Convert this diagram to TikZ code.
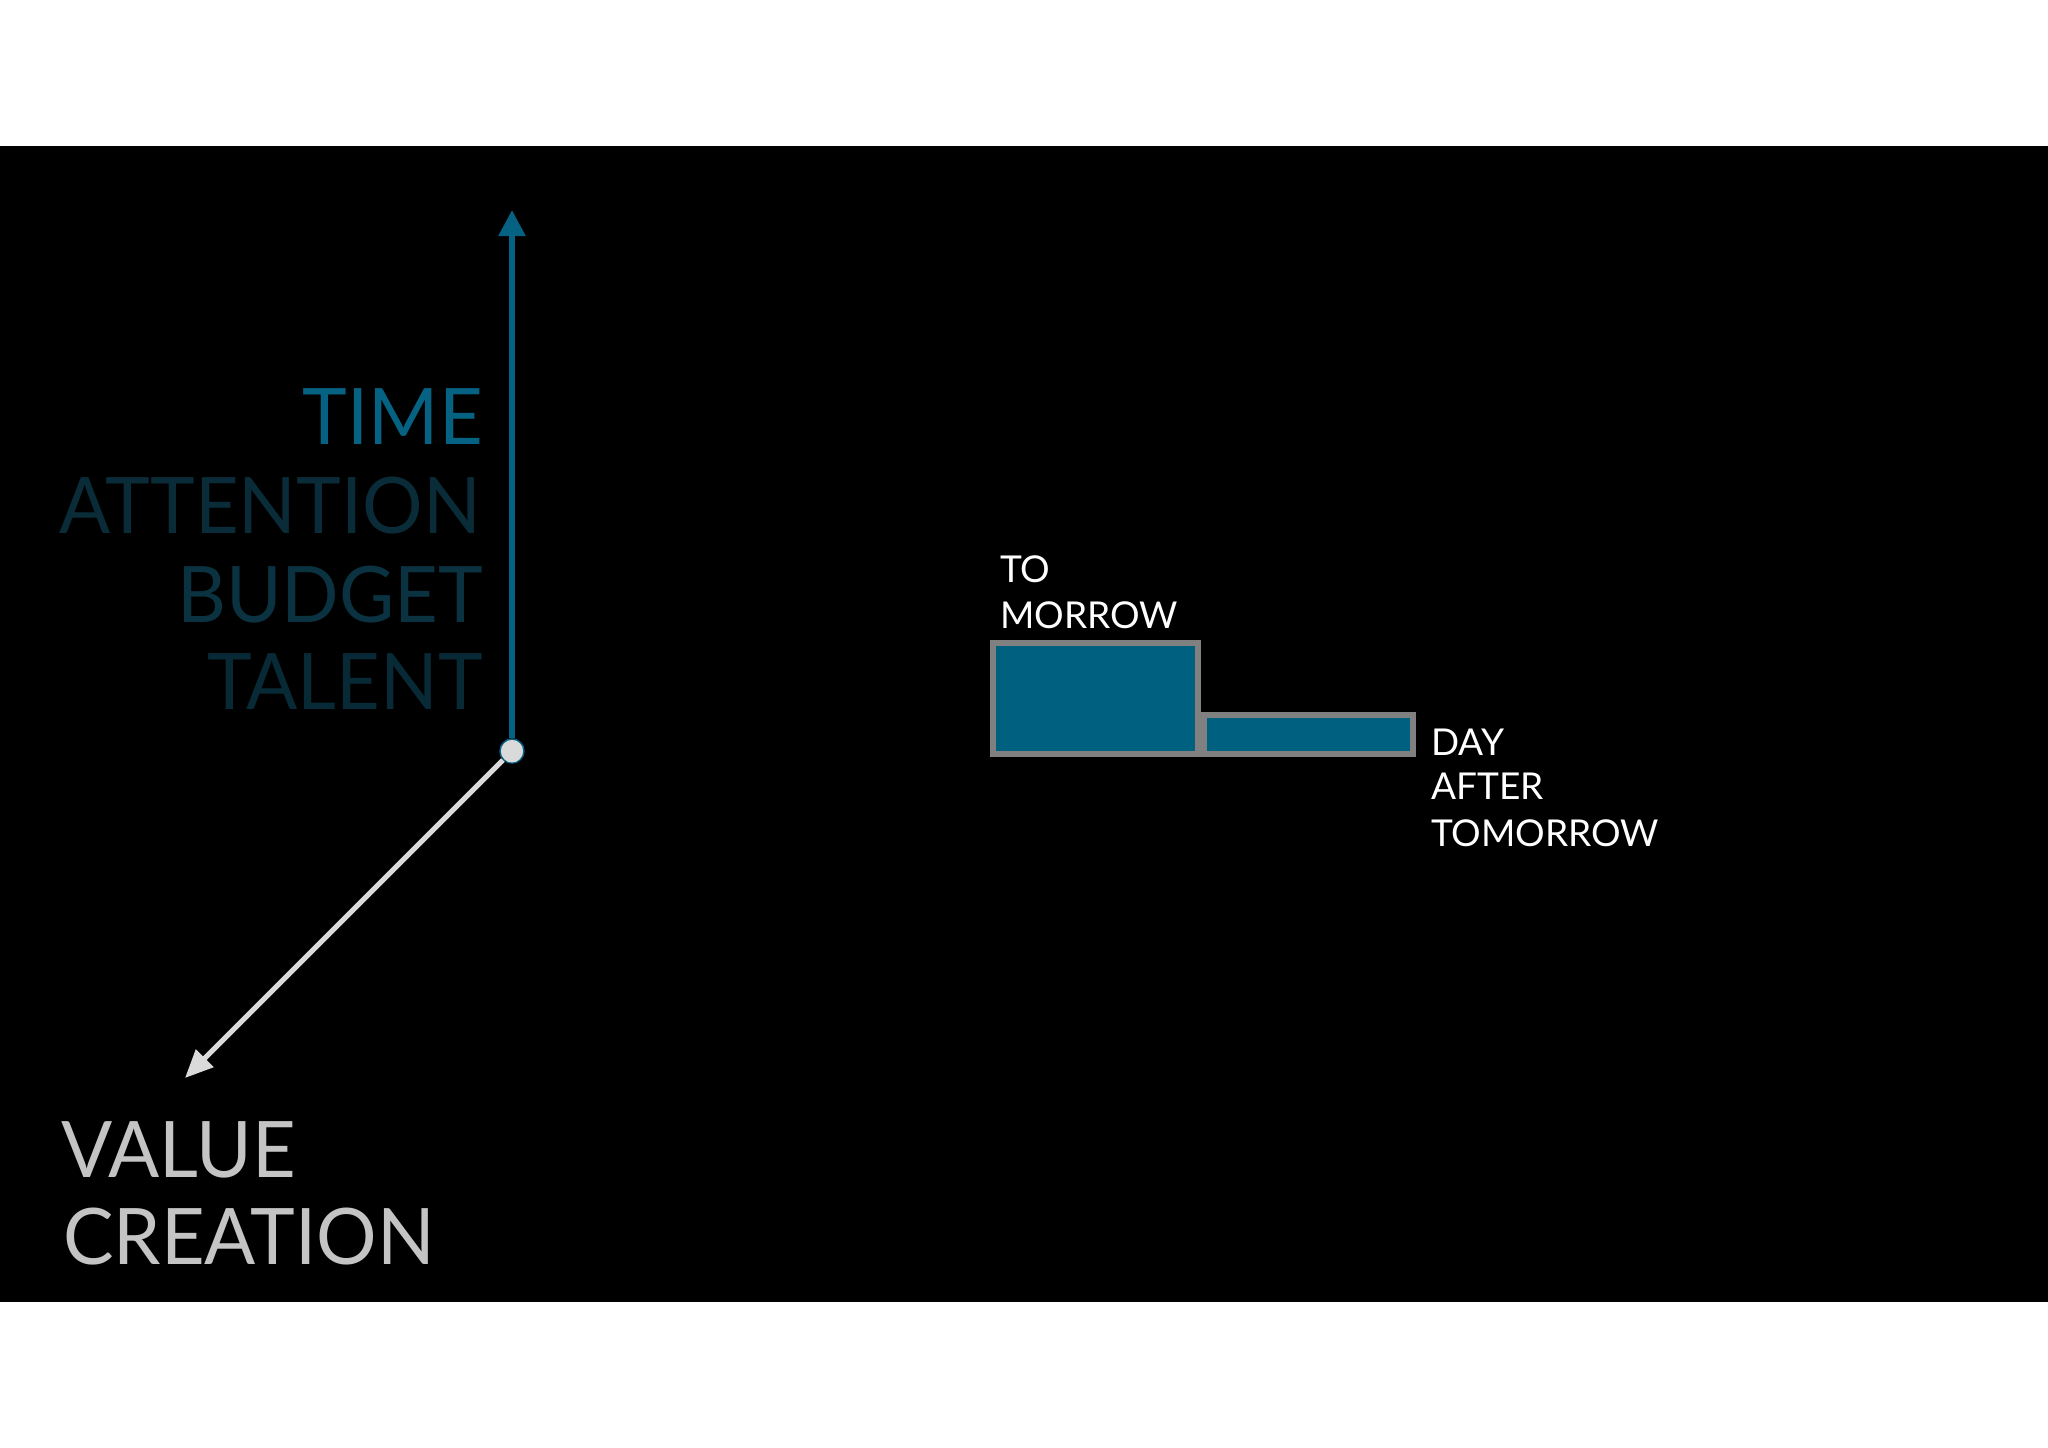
\documentclass[tikz,border=0pt]{standalone}
\usepackage{fontspec}
\setmainfont{Lato}
\newfontfamily\narrowlato[FakeStretch=0.97]{Lato}
\usetikzlibrary{arrows.meta}
\definecolor{teal1}{RGB}{6,98,130}
\definecolor{attn}{RGB}{10,44,57}
\definecolor{budg}{RGB}{10,50,64}
\definecolor{tal}{RGB}{8,42,54}
\definecolor{boxfill}{RGB}{0,96,128}
\definecolor{boxedge}{RGB}{128,128,128}
\definecolor{diag}{RGB}{218,218,218}
\definecolor{valtext}{RGB}{196,196,196}
\tikzset{
  bigword/.style={font=\narrowlato\fontsize{78}{78}\selectfont, inner sep=0pt, anchor=base east},
  valword/.style={font=\narrowlato\fontsize{78}{78}\selectfont, inner sep=0pt, anchor=base west, text=valtext},
  smallword/.style={font=\fontsize{37}{37}\selectfont, inner sep=0pt, anchor=base west, text=white},
  barbox/.style={draw=boxedge, fill=boxfill, line width=6pt, inner sep=0pt},
}
\begin{document}
\begin{tikzpicture}[x=1pt,y=-1pt]
\useasboundingbox (0,0) rectangle (2048,1448);
\fill[white] (0,0) rectangle (2048,1448);
\fill[black] (0,146) rectangle (2048,1302);

% left word column
\node[bigword, text=teal1] (time) at (483,444) {TIME};
\node[bigword, text=attn] (attention) at (481,533) {ATTENTION};
\node[bigword, text=budg] (budget) at (483,622) {BUDGET};
\node[bigword, text=tal] (talent) at (483,709) {TALENT};

% axes
\coordinate (vtop) at (512,210);
\coordinate (dtip) at (185,1078);
\node[circle, fill=diag, draw=teal1, line width=1.5pt, minimum size=24pt, inner sep=0pt] (dot) at (512,751) {};
\draw[teal1, line width=5.5pt, -{Triangle[length=26pt,width=26pt]}] (dot.north) -- (vtop);
\draw[diag, line width=5pt, -{Triangle[length=28pt,width=24pt]}] (dot.south west) -- (dtip);
\node[circle, fill=diag, minimum size=21pt, inner sep=0pt] (dotcap) at (512,752) {};

% value creation
\node[valword] (value) at (61,1177) {VALUE};
\node[valword] (creation) at (63,1264) {CREATION};

% bars
\node[barbox, minimum width=205pt, minimum height=111pt] (tomorrowbox) at (1095.5,698.5) {};
\node[barbox, minimum width=209pt, minimum height=39pt] (dayafterbox) at (1308.5,734.5) {};

\node[smallword] (to) at (1000,582) {TO};
\node[smallword] (morrow) at (1000,628) {MORROW};
\node[smallword] (day) at (1431,755) {DAY};
\node[smallword] (after) at (1431,799) {AFTER};
\node[smallword] (tomorrow2) at (1431,846) {TOMORROW};
\end{tikzpicture}
\end{document}
